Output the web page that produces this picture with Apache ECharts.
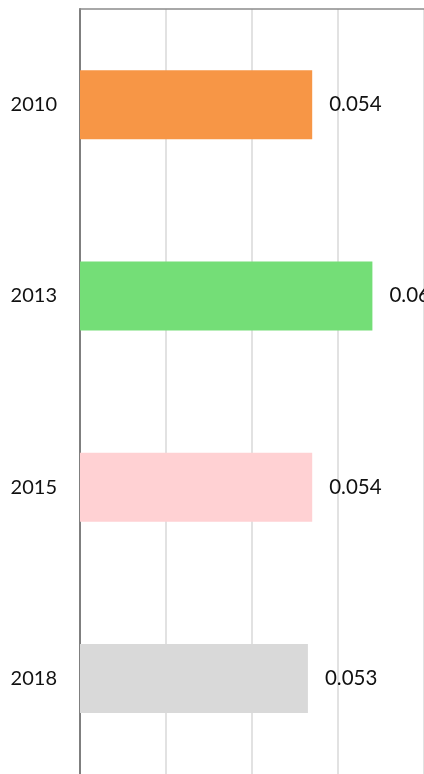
<!DOCTYPE html>
<html>
<head>
<meta charset="utf-8">
<script src="https://cdn.jsdelivr.net/npm/echarts@6/dist/echarts.min.js"></script>
<style>
  html, body { margin: 0; padding: 0; background: #fff; }
  #chart { width: 424px; height: 774px; }
</style>
</head>
<body>
<div id="chart"></div>
<script>
// Years shown on the category axis, top to bottom
const years = ['2010', '2013', '2015', '2018'];
// Value for each year
const values = [0.054, 0.068, 0.054, 0.053];
// Fill colour for each year's bar
const barColors = ['#F79646', '#74DE77', '#FFD1D3', '#D9D9D9'];
// Value axis ticks
const valueTicks = [0, 0.02, 0.04, 0.06, 0.08];

const chart = echarts.init(document.getElementById('chart'), null, { renderer: 'canvas' });

chart.setOption({
  animation: false,
  backgroundColor: '#ffffff',
  grid: { left: 80, top: 9, width: 344, height: 775, containLabel: false },
  xAxis: {
    type: 'value',
    position: 'top',
    min: valueTicks[0],
    max: valueTicks[valueTicks.length - 1],
    interval: valueTicks[1] - valueTicks[0],
    axisLine: { show: true, lineStyle: { color: '#8c8c8c', width: 1.5 } },
    axisTick: { show: false },
    axisLabel: { show: false },
    splitLine: { show: true, lineStyle: { color: '#d9d9d9', width: 1.5 } }
  },
  yAxis: {
    type: 'category',
    data: years,
    inverse: true,
    axisLine: { show: true, lineStyle: { color: '#7f7f7f', width: 2 } },
    axisTick: { show: false },
    axisLabel: {
      margin: 23,
      color: '#111',
      fontFamily: 'Lato',
      fontSize: 20
    },
    splitLine: { show: false }
  },
  series: [{
    type: 'bar',
    barWidth: 69,
    data: values.map((v, i) => ({ value: v, itemStyle: { color: barColors[i] } })),
    label: {
      show: true,
      position: 'right',
      distance: 17,
      color: '#111',
      fontFamily: 'Lato',
      fontSize: 20.5,
      formatter: p => p.value.toFixed(3)
    }
  }]
});
</script>
</body>
</html>
